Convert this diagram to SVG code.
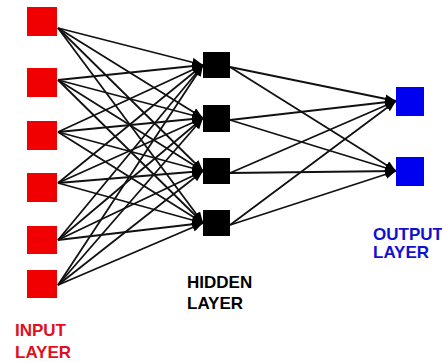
<svg xmlns="http://www.w3.org/2000/svg" width="442" height="362" viewBox="0 0 442 362">
<style>
.in{fill:#f00000}
.hid{fill:#000}
.out{fill:#0000f0}
.c line{stroke:#111;stroke-width:1.8;marker-end:url(#ah)}
.lbl{font-family:"Liberation Sans",Arial,sans-serif;font-weight:bold;font-size:17px}
</style>
<defs>
<marker id="ah" markerUnits="userSpaceOnUse" markerWidth="12" markerHeight="10" refX="11" refY="4.5" orient="auto">
<path d="M0,0 L11,4.5 L0,9 z" fill="#000"/>
</marker>
</defs>
<rect width="442" height="362" fill="#fff"/>
<g class="c" id="connectors">
<line x1="58" y1="28" x2="203" y2="65"/>
<line x1="58" y1="28" x2="203" y2="118"/>
<line x1="58" y1="28" x2="203" y2="171"/>
<line x1="58" y1="28" x2="203" y2="223"/>
<line x1="58" y1="80" x2="203" y2="65"/>
<line x1="58" y1="80" x2="203" y2="118"/>
<line x1="58" y1="80" x2="203" y2="171"/>
<line x1="58" y1="80" x2="203" y2="223"/>
<line x1="58" y1="132" x2="203" y2="65"/>
<line x1="58" y1="132" x2="203" y2="118"/>
<line x1="58" y1="132" x2="203" y2="171"/>
<line x1="58" y1="132" x2="203" y2="223"/>
<line x1="58" y1="183" x2="203" y2="65"/>
<line x1="58" y1="183" x2="203" y2="118"/>
<line x1="58" y1="183" x2="203" y2="171"/>
<line x1="58" y1="183" x2="203" y2="223"/>
<line x1="58" y1="240" x2="203" y2="65"/>
<line x1="58" y1="240" x2="203" y2="118"/>
<line x1="58" y1="240" x2="203" y2="171"/>
<line x1="58" y1="240" x2="203" y2="223"/>
<line x1="58" y1="285" x2="203" y2="65"/>
<line x1="58" y1="285" x2="203" y2="118"/>
<line x1="58" y1="285" x2="203" y2="171"/>
<line x1="58" y1="285" x2="203" y2="223"/>
<line x1="230" y1="67" x2="396" y2="101"/>
<line x1="230" y1="67" x2="396" y2="171"/>
<line x1="230" y1="120" x2="396" y2="101"/>
<line x1="230" y1="120" x2="396" y2="171"/>
<line x1="230" y1="173" x2="396" y2="101"/>
<line x1="230" y1="173" x2="396" y2="171"/>
<line x1="230" y1="225" x2="396" y2="101"/>
<line x1="230" y1="225" x2="396" y2="171"/>
</g>
<g id="in1"><rect class="in" x="27" y="7" width="30" height="29"/></g>
<g id="in2"><rect class="in" x="27" y="68" width="30" height="29"/></g>
<g id="in3"><rect class="in" x="27" y="121" width="30" height="29"/></g>
<g id="in4"><rect class="in" x="27" y="173" width="30" height="29"/></g>
<g id="in5"><rect class="in" x="27" y="226" width="30" height="28"/></g>
<g id="in6"><rect class="in" x="27" y="270" width="30" height="28"/></g>
<g id="hid1"><rect class="hid" x="203" y="52" width="27" height="26"/></g>
<g id="hid2"><rect class="hid" x="203" y="105" width="27" height="27"/></g>
<g id="hid3"><rect class="hid" x="203" y="158" width="27" height="26"/></g>
<g id="hid4"><rect class="hid" x="203" y="210" width="27" height="26"/></g>
<g id="out1"><rect class="out" x="396" y="87" width="28" height="29"/></g>
<g id="out2"><rect class="out" x="396" y="157" width="28" height="29"/></g>
<g id="lbl-input"><text class="lbl" fill="#e01020" x="15" y="336">INPUT</text><text class="lbl" fill="#e01020" x="15" y="358">LAYER</text></g>
<g id="lbl-hidden"><text class="lbl" fill="#000" x="187" y="288">HIDDEN</text><text class="lbl" fill="#000" x="187" y="309">LAYER</text></g>
<g id="lbl-output"><text class="lbl" fill="#1010d0" x="373" y="240">OUTPUT</text><text class="lbl" fill="#1010d0" x="373" y="258">LAYER</text></g>
</svg>
